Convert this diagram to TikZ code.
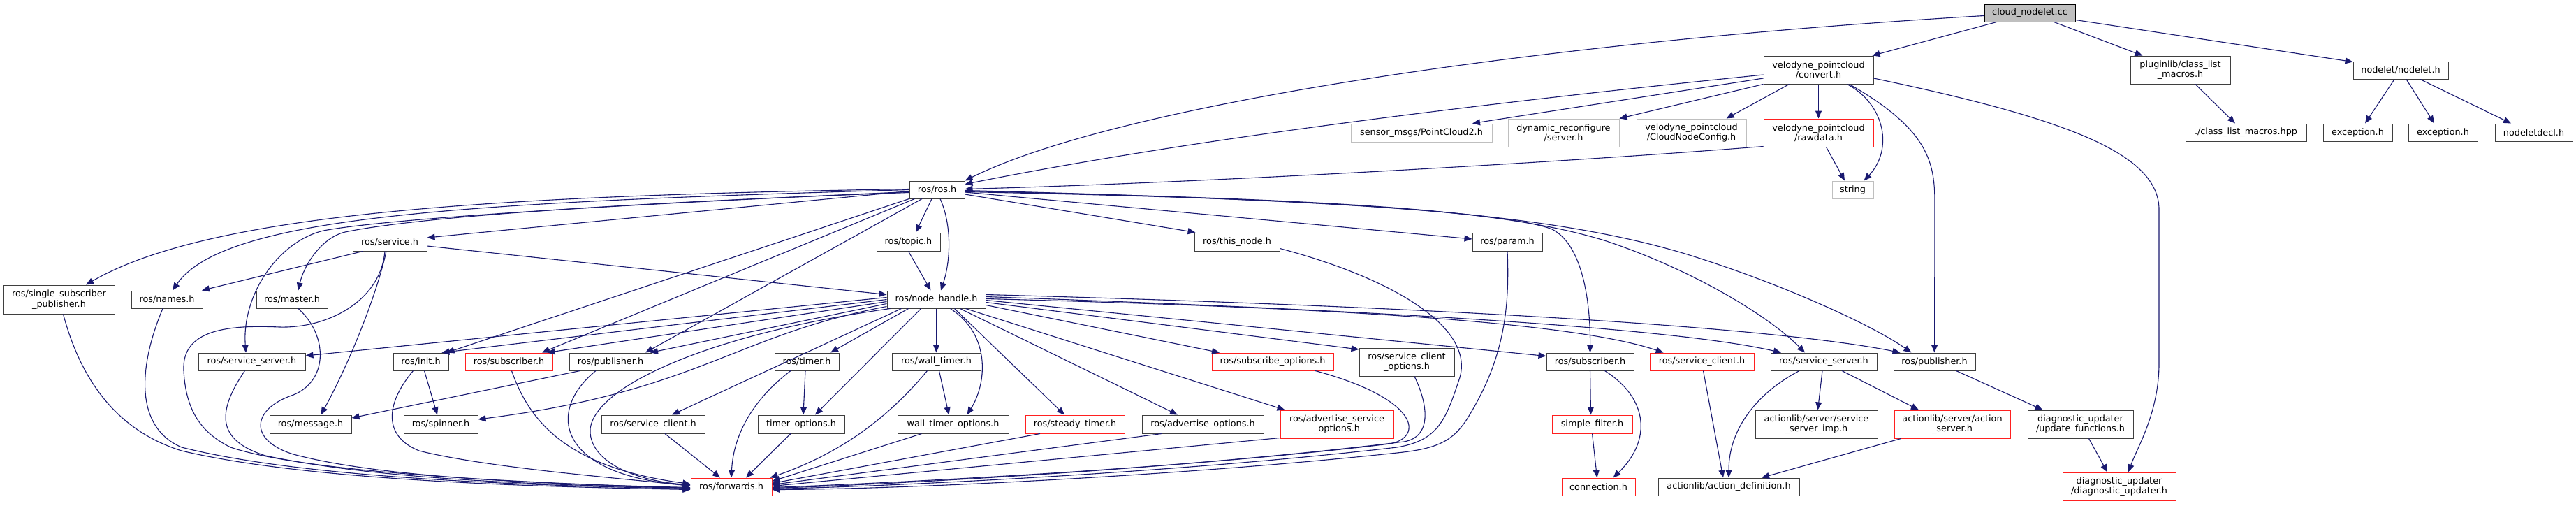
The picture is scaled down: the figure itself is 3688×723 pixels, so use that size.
\documentclass[tikz,border=0pt]{standalone}
\usepackage{fontspec}
\setmainfont{DejaVu Sans}
\usetikzlibrary{arrows.meta,calc}
\definecolor{edgec}{HTML}{191970}
\definecolor{nbd}{HTML}{3F3F3F}
\definecolor{gbd}{HTML}{BFBFBF}
\definecolor{rootf}{HTML}{BFBFBF}
\definecolor{rbd}{HTML}{FF2020}
\begin{document}
\begin{tikzpicture}[x=1pt,y=-1pt,
  box/.style={draw=nbd, fill=white, line width=1pt, inner sep=0pt, align=center, font=\fontsize{12.8pt}{14.3pt}\selectfont},
  redbox/.style={box, draw=rbd},
  graybox/.style={box, draw=gbd},
  rootbox/.style={box, draw=black, fill=rootf},
  edge/.style={draw=edgec, line width=1.1pt, -{Triangle[length=11pt,width=9pt]}}]
\useasboundingbox (0,0) rectangle (3688,723);
\fill[white] (0,0) rectangle (3688,723);
% nodes
\node[rootbox, minimum width=130pt, minimum height=25pt] (cn) at (2906,18.5) {cloud\_nodelet.cc};
\node[box, minimum width=157pt, minimum height=40pt] (cv) at (2603.5,100) {velodyne\_pointcloud\\/convert.h};
\node[box, minimum width=143pt, minimum height=40pt] (plg) at (3121.5,100) {pluginlib/class\_list\\\_macros.h};
\node[box, minimum width=136pt, minimum height=25pt] (ndl) at (3437,100.5) {nodelet/nodelet.h};
\node[graybox, minimum width=202pt, minimum height=26pt] (pc2) at (2035,190) {sensor\_msgs/PointCloud2.h};
\node[graybox, minimum width=159pt, minimum height=40pt] (dyn) at (2238.5,190) {dynamic\_reconfigure\\/server.h};
\node[graybox, minimum width=157pt, minimum height=40pt] (cnc) at (2421.5,190) {velodyne\_pointcloud\\/CloudNodeConfig.h};
\node[redbox, minimum width=157pt, minimum height=40pt] (raw) at (2603.5,190) {velodyne\_pointcloud\\/rawdata.h};
\node[graybox, minimum width=59pt, minimum height=25pt] (str) at (2652.5,271.5) {string};
\node[box, minimum width=173pt, minimum height=25pt] (clm) at (3215.5,189.5) {./class\_list\_macros.hpp};
\node[box, minimum width=99pt, minimum height=25pt] (ex1) at (3375.5,189.5) {exception.h};
\node[box, minimum width=99pt, minimum height=25pt] (ex2) at (3497.5,189.5) {exception.h};
\node[box, minimum width=111pt, minimum height=25pt] (ndd) at (3627.5,189.5) {nodeletdecl.h};
\node[box, minimum width=79pt, minimum height=25pt] (ros) at (1341.5,271.5) {ros/ros.h};
\node[box, minimum width=106pt, minimum height=26pt] (srv) at (558,346) {ros/service.h};
\node[box, minimum width=91pt, minimum height=26pt] (top) at (1300.5,346) {ros/topic.h};
\node[box, minimum width=122pt, minimum height=26pt] (thn) at (1771,346) {ros/this\_node.h};
\node[box, minimum width=100pt, minimum height=26pt] (par) at (2158,346) {ros/param.h};
\node[box, minimum width=159pt, minimum height=41pt] (ssp) at (84.5,428.5) {ros/single\_subscriber\\\_publisher.h};
\node[box, minimum width=102pt, minimum height=25pt] (nam) at (239,428.5) {ros/names.h};
\node[box, minimum width=102pt, minimum height=25pt] (mas) at (418,428.5) {ros/master.h};
\node[box, minimum width=141pt, minimum height=25pt] (nh) at (1340.5,428.5) {ros/node\_handle.h};
\node[box, minimum width=153pt, minimum height=25pt] (ssl) at (360.5,517.5) {ros/service\_server.h};
\node[box, minimum width=79pt, minimum height=25pt] (ini) at (602.5,517.5) {ros/init.h};
\node[redbox, minimum width=125pt, minimum height=25pt] (sbl) at (728.5,517.5) {ros/subscriber.h};
\node[box, minimum width=118pt, minimum height=25pt] (pbl) at (874,517.5) {ros/publisher.h};
\node[box, minimum width=92pt, minimum height=25pt] (tim) at (1155,517.5) {ros/timer.h};
\node[box, minimum width=127pt, minimum height=25pt] (wt) at (1340.5,517.5) {ros/wall\_timer.h};
\node[redbox, minimum width=174pt, minimum height=25pt] (sbo) at (1822,517.5) {ros/subscribe\_options.h};
\node[box, minimum width=136pt, minimum height=40pt] (sco) at (2014,518) {ros/service\_client\\\_options.h};
\node[box, minimum width=125pt, minimum height=25pt] (sbr) at (2276.5,517.5) {ros/subscriber.h};
\node[redbox, minimum width=149pt, minimum height=25pt] (scr) at (2436.5,517.5) {ros/service\_client.h};
\node[box, minimum width=152pt, minimum height=25pt] (ssr) at (2611,517.5) {ros/service\_server.h};
\node[box, minimum width=117pt, minimum height=25pt] (pbr) at (2769.5,517.5) {ros/publisher.h};
\node[box, minimum width=117pt, minimum height=26pt] (msg) at (444.5,607) {ros/message.h};
\node[box, minimum width=106pt, minimum height=26pt] (spn) at (631,607) {ros/spinner.h};
\node[box, minimum width=148pt, minimum height=26pt] (scl) at (935,607) {ros/service\_client.h};
\node[box, minimum width=124pt, minimum height=26pt] (tmo) at (1147,607) {timer\_options.h};
\node[box, minimum width=159pt, minimum height=26pt] (wto) at (1364.5,607) {wall\_timer\_options.h};
\node[redbox, minimum width=142pt, minimum height=26pt] (stt) at (1539,607) {ros/steady\_timer.h};
\node[box, minimum width=174pt, minimum height=26pt] (ado) at (1722,607) {ros/advertise\_options.h};
\node[redbox, minimum width=162pt, minimum height=40pt] (aso) at (1914,607) {ros/advertise\_service\\\_options.h};
\node[redbox, minimum width=115pt, minimum height=26pt] (sfl) at (2279.5,607) {simple\_filter.h};
\node[box, minimum width=175pt, minimum height=40pt] (ssi) at (2600.5,607) {actionlib/server/service\\\_server\_imp.h};
\node[redbox, minimum width=166pt, minimum height=40pt] (asv) at (2795,607) {actionlib/server/action\\\_server.h};
\node[box, minimum width=151pt, minimum height=40pt] (upf) at (2978.5,607) {diagnostic\_updater\\/update\_functions.h};
\node[redbox, minimum width=116pt, minimum height=25pt] (fwd) at (1047,696.5) {ros/forwards.h};
\node[redbox, minimum width=105pt, minimum height=25pt] (con) at (2288.5,696.5) {connection.h};
\node[box, minimum width=202pt, minimum height=25pt] (acd) at (2475,696.5) {actionlib/action\_definition.h};
\node[redbox, minimum width=162pt, minimum height=40pt] (dgu) at (3034,696) {diagnostic\_updater\\/diagnostic\_updater.h};
% edges from cloud_nodelet.cc
\draw[edge] ($(cn.west)+(0,4)$) .. controls (2200,60) and (1600,150) .. (ros.north east);
\draw[edge] ($(cn.south west)+(18,0)$) -- ($(cv.north east)+(-2,0)$);
\draw[edge] ($(cn.south east)+(-31,0)$) -- ($(plg.north west)+(18,0)$);
\draw[edge] ($(cn.south east)+(0,-3)$) -- ($(ndl.north west)+(0,1)$);
% convert.h
\draw[edge] ($(cv.west)+(0,7)$) .. controls (2100,150) and (1700,200) .. ($(ros.east)+(0,-8)$);
\draw[edge] ($(cv.west)+(0,12)$) -- ($(pc2.north)+(73,0)$);
\draw[edge] (cv.south west) -- (dyn.north east);
\draw[edge] ($(cv.south west)+(37,0)$) -- ($(cnc.north)+(50,0)$);
\draw[edge] (cv.south) -- (raw.north);
\draw[edge] ($(cv.south)+(41,0)$) .. controls (2700,150) and (2710,215) .. ($(str.north)+(16,0)$);
\draw[edge] ($(cv.south)+(44,0)$) .. controls (2770,190) and (2770,240) .. (2770,300) -- (pbr.north);
\draw[edge] ($(cv.east)+(0,12)$) .. controls (2960,170) and (3091,220) .. (3091,300) -- (3091,520) .. controls (3091,590) and (3060,640) .. ($(dgu.north)+(13,0)$);
\draw[edge] ($(raw.south west)+(0,-1)$) .. controls (2200,235) and (1700,262) .. ($(ros.east)+(0,-1)$);
\draw[edge] ($(raw.south)+(11,0)$) -- ($(str.north)+(-11.5,0)$);
\draw[edge] ($(plg.south)+(21.5,0)$) -- ($(clm.north)+(-15.5,0)$);
\draw[edge] ($(ndl.south)+(-9,0)$) -- ($(ex1.north)+(10.5,0)$);
\draw[edge] ($(ndl.south)+(8,0)$) -- ($(ex2.north)+(-12.5,0)$);
\draw[edge] ($(ndl.south)+(28,0)$) -- ($(ndd.north)+(-32.5,0)$);
% ros.h
\draw[edge] ($(ros.west)+(0,2)$) -- ($(srv.east)+(0,-6)$);
\draw[edge] ($(ros.west)+(0,-1)$) .. controls (700,280) and (300,305) .. ($(ssp.north)+(38.5,0)$);
\draw[edge] (ros.west) .. controls (650,290) and (320,310) .. ($(nam.north)+(8,0)$);
\draw[edge] ($(ros.west)+(0,3)$) .. controls (900,292) and (560,312) .. (463,330) .. controls (400,345) and (346,420) .. ($(ssl.north)+(-8.5,0)$);
\draw[edge] ($(ros.west)+(0,4)$) .. controls (900,290) and (600,310) .. (494,332) .. controls (460,340) and (435,380) .. ($(mas.north)+(9,0)$);
\draw[edge] (ros.south west) -- ($(ini.north)+(37,0)$);
\draw[edge] ($(ros.south west)+(8,0)$) -- ($(sbl.north)+(47.5,0)$);
\draw[edge] ($(ros.south)+(-21.5,0)$) -- ($(pbl.north)+(50,0)$);
\draw[edge] ($(ros.south)+(-7.5,0)$) -- ($(top.north)+(10.5,0)$);
\draw[edge] ($(ros.south)+(4.5,0)$) .. controls (1362,320) and (1362,370) .. ($(nh.north)+(6.5,0)$);
\draw[edge] ($(ros.east)+(0,6.5)$) -- ($(thn.north west)+(2,0)$);
\draw[edge] ($(ros.east)+(0,3.5)$) -- ($(par.west)+(0,-4)$);
\draw[edge] ($(ros.east)+(0,1)$) .. controls (1800,283) and (2150,300) .. (2222,328) .. controls (2262,348) and (2277,420) .. (sbr.north);
\draw[edge] ($(ros.east)+(0,2)$) .. controls (1900,285) and (2150,298) .. (2300,345) .. controls (2420,385) and (2530,450) .. ($(ssr.north)+(-27,0)$);
\draw[edge] ($(ros.east)+(0,3)$) .. controls (1900,285) and (2200,300) .. (2409,362) .. controls (2550,405) and (2680,465) .. ($(pbr.north)+(-33,0)$);
% node_handle.h
\draw[edge] ($(nh.west)+(0,-3)$) -- ($(ssl.east)+(0,-8.5)$);
\draw[edge] (nh.west) -- ($(ini.north)+(30,0)$);
\draw[edge] ($(nh.west)+(0,3)$) -- ($(sbl.north)+(55,0)$);
\draw[edge] ($(nh.west)+(0,6)$) -- ($(pbl.north)+(57,0)$);
\draw[edge] ($(nh.south west)+(0,-3)$) .. controls (1050,480) and (1000,560) .. ($(spn.east)+(0,-7)$);
\draw[edge] ($(nh.south west)+(5,0)$) .. controls (1000,480) and (840,560) .. (845,620) .. controls (850,670) and (930,690) .. ($(fwd.west)+(0,-3)$);
\draw[edge] ($(nh.south)+(-50,0)$) -- ($(scl.north)+(27,0)$);
\draw[edge] ($(nh.south)+(-40,0)$) -- ($(tim.north)+(34,0)$);
\draw[edge] ($(nh.south)+(-22,0)$) -- ($(tmo.north)+(20,0)$);
\draw[edge] (nh.south) -- (wt.north);
\draw[edge] ($(nh.south)+(20,0)$) .. controls (1420,480) and (1412,550) .. ($(wto.north)+(20,0)$);
\draw[edge] ($(nh.south)+(26,0)$) -- ($(stt.north)+(-15,0)$);
\draw[edge] ($(nh.south)+(34,0)$) -- ($(ado.north)+(-36,0)$);
\draw[edge] ($(nh.south)+(42,0)$) -- ($(aso.north west)+(7,0)$);
\draw[edge] ($(nh.east)+(0,8)$) -- ($(sbo.north)+(-76,0)$);
\draw[edge] ($(nh.east)+(0,4)$) -- ($(sco.west)+(0,-18)$);
\draw[edge] ($(nh.east)+(0,1)$) -- ($(sbr.west)+(0,-8)$);
\draw[edge] ($(nh.east)+(0,-1)$) .. controls (1900,440) and (2250,460) .. ($(scr.north)+(-55,0)$);
\draw[edge] ($(nh.east)+(0,-4)$) .. controls (2000,445) and (2400,470) .. ($(ssr.north)+(-61,0)$);
\draw[edge] ($(nh.east)+(0,-7)$) .. controls (2100,440) and (2550,470) .. ($(pbr.north)+(-49,0)$);
% service.h
\draw[edge] ($(srv.east)+(0,6)$) -- ($(nh.west)+(0,-7)$);
\draw[edge] ($(srv.south west)+(15,0)$) -- ($(nam.north)+(50,0)$);
\draw[edge] ($(srv.south)+(-5,0)$) .. controls (540,420) and (500,520) .. ($(msg.north)+(15,0)$);
\draw[edge] ($(srv.south)+(-7,0)$) .. controls (545,430) and (470,470) .. (400,468) .. controls (330,465) and (260,470) .. (263,530) .. controls (266,590) and (290,620) .. (330,640) .. controls (450,680) and (800,692) .. ($(fwd.west)+(0,2)$);
% into forwards.h from left group
\draw[edge] ($(ssp.south)+(6,0)$) .. controls (120,560) and (180,620) .. (260,645) .. controls (450,690) and (800,697) .. ($(fwd.west)+(0,4)$);
\draw[edge] ($(nam.south)+(-6,0)$) .. controls (200,520) and (190,610) .. (260,640) .. controls (450,688) and (800,695) .. ($(fwd.west)+(0,3)$);
\draw[edge] ($(ssl.south)+(-10,0)$) .. controls (310,590) and (310,630) .. (380,652) .. controls (550,688) and (800,694) .. ($(fwd.west)+(0,2)$);
\draw[edge] ($(mas.south)+(9,0)$) .. controls (470,480) and (470,545) .. (420,565) .. controls (360,585) and (355,630) .. (420,650) .. controls (550,685) and (800,693) .. ($(fwd.west)+(0,1)$);
\draw[edge] ($(ini.south)+(-11,0)$) .. controls (550,580) and (550,625) .. (600,645) .. controls (700,670) and (900,685) .. ($(fwd.west)+(0,-1)$);
\draw[edge] ($(ini.south)+(5,0)$) -- ($(spn.north)+(-5,0)$);
\draw[edge] ($(sbl.south)+(4,0)$) .. controls (760,610) and (820,670) .. ($(fwd.west)+(0,-4)$);
\draw[edge] ($(pbl.south)+(-21,0)$) .. controls (780,590) and (800,680) .. ($(fwd.west)+(0,-2)$);
\draw[edge] ($(pbl.south west)+(16,0)$) -- ($(msg.east)+(0,-9)$);
\draw[edge] ($(scl.south)+(17,0)$) -- ($(fwd.north)+(-16,0)$);
\draw[edge] ($(tim.south)+(-23,0)$) .. controls (1080,570) and (1050,620) .. (fwd.north);
\draw[edge] ($(tim.south)+(-2,0)$) -- ($(tmo.north)+(3,0)$);
\draw[edge] ($(tmo.south)+(-15,0)$) -- ($(fwd.north)+(21,0)$);
% into forwards.h from right group
\draw[edge] ($(wt.south)+(-13,0)$) .. controls (1270,600) and (1200,650) .. ($(fwd.north east)+(-3,0)$);
\draw[edge] ($(wto.south)+(-45,0)$) -- ($(fwd.east)+(0,-8)$);
\draw[edge] ($(stt.south)+(-50,0)$) -- ($(fwd.east)+(0,-5)$);
\draw[edge] ($(ado.south)+(-59,0)$) -- ($(fwd.east)+(0,-3)$);
\draw[edge] ($(aso.south west)+(0,-1)$) -- ($(fwd.east)+(0,-1)$);
\draw[edge] ($(sbo.south)+(61,0)$) .. controls (2030,570) and (2040,625) .. (1990,635) .. controls (1700,670) and (1300,690) .. ($(fwd.east)+(0,1)$);
\draw[edge] ($(sco.south)+(11,0)$) .. controls (2045,580) and (2050,625) .. (2010,632) .. controls (1700,670) and (1300,692) .. ($(fwd.east)+(0,2)$);
\draw[edge] ($(thn.south east)+(0,-4)$) .. controls (2000,400) and (2110,470) .. (2090,540) .. controls (2070,600) and (2060,630) .. (2000,640) .. controls (1700,675) and (1300,695) .. ($(fwd.east)+(0,3)$);
\draw[edge] (par.south) .. controls (2162,450) and (2150,520) .. (2100,600) .. controls (2080,630) and (2060,642) .. (2000,648) .. controls (1700,680) and (1300,700) .. ($(fwd.east)+(0,4)$);
\draw[edge] ($(wt.south)+(4,0)$) -- ($(wto.north)+(-6,0)$);
\draw[edge] (top.south) -- ($(nh.north)+(-8,0)$);
% right group
\draw[edge] (sbr.south) -- ($(sfl.north)+(-2,0)$);
\draw[edge] ($(sbr.south)+(21,0)$) .. controls (2360,570) and (2365,630) .. ($(con.north)+(21,0)$);
\draw[edge] (sfl.south) -- ($(con.north)+(-2,0)$);
\draw[edge] ($(scr.south)+(2,0)$) -- ($(acd.north)+(-8,0)$);
\draw[edge] ($(ssr.south)+(-35,0)$) .. controls (2520,560) and (2475,610) .. (acd.north);
\draw[edge] ($(ssr.south)+(-2,0)$) -- ($(ssi.north)+(2,0)$);
\draw[edge] ($(ssr.south)+(26,0)$) -- ($(asv.north)+(-48,0)$);
\draw[edge] ($(asv.south west)+(10,0)$) -- ($(acd.north)+(47,0)$);
\draw[edge] ($(pbr.south)+(31,0)$) -- ($(upf.north)+(-54,0)$);
\draw[edge] ($(upf.south)+(12,0)$) -- ($(dgu.north)+(-17,0)$);
\end{tikzpicture}
\end{document}
